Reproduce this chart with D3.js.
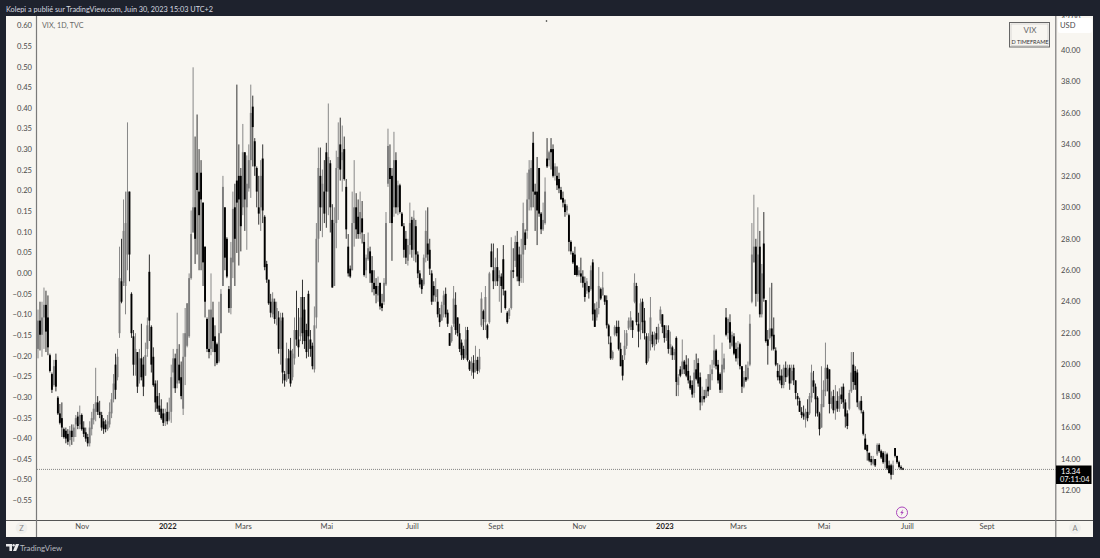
<!DOCTYPE html>
<html><head><meta charset="utf-8">
<script src="https://cdn.jsdelivr.net/npm/d3@7"></script>
<style>html,body{margin:0;padding:0;background:#1e222d;overflow:hidden}svg{display:block}text{font-family:Lato,"Noto Sans",sans-serif}</style>
</head><body><svg id="c" width="1100" height="558"></svg>
<script>
const opens=[
21,22.8,21.9,23,23.8,23,20.6,19.4,18.7,20.3,17.9,16.9,16.6,15.9,15.8,15.6,15.2,15.8,15.4,16.2,
16.7,16.2,16.8,16,15.7,15.4,15,15.9,16.5,17,17.6,17,16.8,16.4,16.2,15.9,16.2,16.9,17.8,20,
19.2,22,25.3,25.2,25,27,31,24.5,21.8,20,20.8,19,20.4,20,19.3,21,25.9,22.4,20.5,18.8,
18,17.4,17.2,16.9,16.4,17,16.5,17,19.5,20.4,18.8,20,19.2,17.2,20.5,21.2,21.8,25.5,28.4,30,
32.2,31,32.2,30.3,27.5,22.9,21,21,23,21.8,21.3,20.2,22,25,30,28,24.8,23.6,26.5,30,
31.7,32,32,30,33.5,30,31.2,33,36.4,34.2,32.5,30,30,33.1,29.4,26.4,25.4,24,23.2,24,
23,23,21,23,19.4,19,20.4,20.9,19.2,20.4,22.2,21.6,21.8,24.3,23.5,22.2,24.5,21.6,21.2,19.7,
23,28,32,30,31,33.5,31,32.8,29.2,25,29,32.5,34,33,33.7,31.3,27.5,26.1,26,29,
30,29.4,28.3,29.3,27.8,26,26.7,27.2,26,25.2,25,24.4,25.2,23.9,24,25.1,31.5,32.5,32,30,
33,30,31.4,29.6,28.8,28,26.6,27.6,29.2,27.3,28.8,27,25.8,25.4,25.1,26.8,27.7,27.3,25.8,25,
24.3,24,23.2,22.8,23.8,24.5,23.3,22,21.5,22.6,23.8,23,22,21.4,21,20.6,22.2,20.2,19.6,20.1,
19.7,20.3,19.7,22.5,23.4,22.7,22.5,22.7,27.2,26,25.3,26.2,25.5,25.6,26.7,24.7,23.3,23.1,23.6,26,
26.6,27.8,27,25.5,27,28.4,28.5,30.5,30,34.1,31,31,32.5,29.6,28.6,29,33.1,33,33.7,33.7,
32,32,31.8,31.1,30.6,30.2,29.8,29.5,27.8,27.1,27,26.3,25.7,25.8,25.6,25.2,24.7,25,24.8,26.5,
23.5,23,23.6,24.8,24.4,24.4,24.1,22.5,21.4,20.4,21.9,22.4,22.4,21,20.3,20.6,21.2,22.3,22.4,22.8,
24,25,22.6,22.2,24,22.8,21.8,20.4,21.5,21.9,21.2,22,21.6,22.8,23.2,22.5,21.7,22.2,21,21.1,
20.6,21.7,18.7,19.7,19.4,20.2,20,19.6,19,18.7,18.2,19.7,20.1,19.2,17.6,18,17.9,18.6,18.4,19.4,
20,20.9,20,19.4,18.4,19.7,23,22,22.7,21.2,21.8,21,20.4,21.3,19.9,18.6,19.2,19.1,20,24,
26.5,27.5,24.5,27.5,23.2,27.7,24.1,21.6,21.7,22.3,21.9,20.9,19.6,19.3,19.3,18.7,19.8,19.3,19.8,19,
19.8,19,18,17.7,17,16.9,16.5,17,16.9,17.9,19,18.6,17.9,16.9,16,17.3,18.3,19.8,19.7,17.5,
18,17.1,17.7,17.2,18.1,18.6,17.6,16.9,17.2,18.3,20,19.6,19.5,17.2,17.7,17,15.3,14.9,14.4,14,
13.7,14,14.3,14.9,14.5,14.4,13.8,14.3,13.6,13.6,13,14.7,14.2,13.8,13.5,13.4];
const highs=[
23.5,24,24,24.9,24.7,24.4,20.7,19.5,20.3,20.7,18,17.5,17.6,16,16,15.9,16.1,16.2,16.2,16.8,
17,17.4,16.9,16.4,16,15.6,16.4,17,17.5,19.8,18,17.7,17,16.6,16.5,16.8,17.6,18.2,19.4,20.7,
21,27.5,28,30.5,31,35.4,30.5,24.6,22.2,22,20.8,21,22.6,20.5,21.4,23,27,22.5,21.1,19,
19,18.2,17.8,17.2,17.2,17.6,17.9,20,21,20.7,23.3,21.3,20.2,22,23.6,23.9,25.8,29.8,38.9,34.5,
35.9,33.7,33,30.3,27.5,23,23.5,25.8,24,22.5,21.4,24,24.8,32,30,28.1,25,27.8,31,31.5,
37.8,34,32.5,35.3,33.5,33.3,34,37.8,37.1,34.4,32.6,32,33,34,29.5,26.6,25.4,24.5,24.6,24.2,
24,23.4,23.3,23.3,19.6,21.4,21,21.7,21,23,24.7,23.6,24.3,25.4,24.3,22.6,24.7,22.2,21.4,23.7,
29,33.8,33.8,32.4,33,34.1,36.6,33,30.2,30,33.6,35.4,35.7,35.2,34.5,31.8,28.3,26.3,31,33,
30.9,30.5,31,30.4,28.3,27,28.4,27.5,26.9,26,25.5,25.6,25.2,24.5,25.5,29.7,35,34,32.5,34.8,
33.5,31.7,31.5,29.7,29,28.5,28,30.3,29.4,29.8,29.2,27.2,26,25.5,27,29.8,30,28,26,25.3,
25.5,24.8,23.6,24,24.7,24.9,23.5,22,22.5,25,24.6,23,22.6,21.6,21.2,22.4,22.4,20.3,20.5,20.6,
21.2,20.5,21,24.6,23.5,25,22.6,25.9,27.7,27.7,26.8,27.4,26,25.8,27.6,24.7,23.4,23.6,28.1,27.4,
28.2,28.5,27.5,28,30.3,28.6,32.2,33,33,34.8,31.5,33.2,32.5,29.7,30.3,31.9,34.4,33.6,34.4,34,
32.8,32.6,32.2,31.3,31,30.5,30.2,29.6,27.9,27.2,27.5,26.3,26.2,26.8,26,25.6,25.5,25,26.3,26.7,
23.9,24,26.2,24.9,25.9,24.4,24.4,22.6,21.8,20.9,22.5,22.8,22.8,21.4,20.6,22.2,22.2,23,23.4,22.8,
25.8,25.2,23.3,24.2,24.2,23.6,22,22,24.3,22.1,22.1,22.4,22.6,23.7,23.2,22.5,22.5,22.5,22.1,21.2,
21,21.8,19.4,19.9,21.6,20.3,20.6,20.4,19.3,19,20.3,20.7,20.4,19.5,18.6,18.4,19.1,19.4,20,20.3,
21.9,21,20.3,19.5,21.4,20.7,23.6,23,23.2,22.1,22,21.4,21.5,21.4,19.9,19.6,20,20.2,23.2,29,
30.8,28,30,28.5,26.4,29.7,24.1,22.2,24.9,25.2,23,21.1,20.1,20,19.7,20,20.2,20,20,20,
20,19,18.2,17.9,17.3,17.4,17.2,17.8,18.2,20,19.6,18.8,18,17,19.9,19,21.4,20,19.7,18.3,
18.4,18.7,18.3,18.5,18.6,18.8,17.8,17.1,18.4,20.8,20.8,19.9,19.7,17.7,18,17.1,15.6,14.9,14.4,14.2,
14.2,14,15,15,14.6,14.5,14.5,14.4,13.9,13.7,13.9,14.7,14.2,13.9,13.6,13.45];
const lows=[
20.4,20.9,20.5,21,20.8,20.6,19.5,18.2,18.6,18.3,16.8,16.2,15.4,15.3,15,14.9,14.8,14.9,15.1,15.4,
15.9,15.9,15.8,15.4,15.1,14.8,14.8,15.5,16.2,16.4,16.8,16.6,15.8,15.6,15.7,15.8,16,16.6,17.6,17.8,
19,21.7,23.9,25,23.2,26,25.3,21.7,19.3,19.3,18.2,18.8,19,18,19.3,20.5,21.5,19.5,18.6,17,
17,16.8,16.5,16.1,16.1,16.2,16.4,16.3,18.5,18.2,18.5,18.8,17.8,16.8,18.7,21.1,21.7,25.4,28.4,26.4,
27,26,26,25,23,20.8,20.4,20.6,20.8,19.9,20,20.1,22,25,26,25.5,23.3,23.2,25.5,25,
27.1,26.3,27.2,29.5,28.5,27.3,31,30.6,32.6,32,30,28.9,28.5,29,26,25.2,23.8,23,23,22.6,
22.5,20.7,20,18.8,18.6,18.9,19.1,18.6,19,20,21.2,20.5,21.5,21.3,21,20.4,20.5,20.5,19.7,19.5,
22.3,26.5,28.5,28.1,29,28.7,29.5,28.4,24.9,25,27.4,29.2,31.7,31,31.7,28,25.6,25.5,26,27.5,
28,28,28,27.7,25.6,25.5,26.6,25.2,24.6,24.4,23.9,24,23.5,23.4,23.8,25,31.3,29,26.6,29.4,
29.6,29.5,29.6,28.8,26.8,26.4,26.3,27,26.8,26.6,26.5,25.5,24.9,24.5,25,26.5,26.6,25.7,23.8,24,
24,23,22.4,22.8,23,23,22.4,21.2,21.4,22.4,21.9,21.8,20.8,20.3,20.3,20.4,20.2,19.6,19.3,19.1,
19.5,19.4,19.5,22.4,22.2,22.2,21.6,22.6,26.2,24.8,25,25,24,23.3,24.4,23.5,22.6,22.9,23.5,25.5,
26.2,25.3,25,25.2,25.2,27.3,28,29.8,29.8,30,28.5,27.6,29.4,28.3,28.5,28.9,32.5,32.6,32.4,31.9,
31.7,31.1,30.9,30.5,30,29.4,29.5,27.2,27,26.4,25.7,25.6,25.6,25.2,24.9,24,24.5,24.2,24.7,22.8,
22.4,22.8,23.2,24.1,24.4,23.8,22.3,21.3,20.3,20.3,21.8,21.8,20.9,19.9,19,20.3,21,22.2,22.2,21.7,
23.9,22.5,21.1,21.6,22,21.6,20,20.2,20.9,21.1,20.9,21.3,21.4,22.6,22,21.4,21.5,20.7,20.6,20.3,
20.3,18,18,19.2,19.4,19.4,19.2,18.8,18.4,17.9,17.9,19,18.6,17.1,17.4,17.6,17.9,18,18.4,19,
19.8,19.7,18.8,18.2,18.2,19.5,21.8,21.6,21,21.1,20.6,20.2,20,19.7,18.2,18.5,18.9,19,19.9,23.9,
26.5,23.7,24,23,23,24,21.4,20,21.6,20.9,20.9,19.9,19,18.8,18.5,18.5,18.9,19.2,18.4,18.8,
18.7,17.8,17.4,17,16.6,16.5,16,16.4,16.8,17.6,18.2,16.7,16.7,15.5,16,17.3,18,18.3,16.9,17.2,
16.9,16.5,17,17,17.5,17.2,16,15.9,17.1,18.2,18.4,18.4,17.3,17.1,16.9,15.5,14.6,13.9,13.8,13.6,
13.6,13.5,14.2,14.4,14,13.7,13.4,13.3,13.1,12.7,13,14.1,13.7,13.4,13.3,13.3];
const closes=[
22.8,21.9,23,23.8,22.1,21.1,19.6,18.4,19.9,18.6,16.9,16.3,16,15.4,15.3,15.1,15.8,15.4,16,16.6,
16.1,16.8,15.9,15.6,15.3,15,16,16.6,17.2,17.6,17,16.8,16,15.9,15.9,16.4,17,17.8,18.8,18.4,
20.5,25.5,24,28.5,29,31,27,22,20,21,18.6,20.4,19.2,18.6,20.6,22.5,22.8,20,18.7,17.6,
17.2,17,16.6,16.3,16.9,16.4,17,19.2,20.4,18.5,21,19,18,20.5,22,23.9,25.5,28.3,30,28,
31.1,29.5,30.5,26.5,24,21,20.8,23.5,21.5,20.8,20.1,22,24.5,31.3,26.8,25.6,23.6,26.8,29.9,28,
30.3,30.5,28.8,33.5,30.5,31.5,33,36,35.1,32.6,31,29.6,32,29.8,26.2,25.4,23.9,23.3,24.2,22.9,
23.6,21,22.8,19.5,19,20.4,19.4,18.8,20.7,22.2,21.6,21.1,23,22,21.5,20.8,21.8,21,19.9,22.5,
28,32.5,30,31.5,29.6,31,33.2,30,24.9,29,32.5,33.2,32.4,33.5,31.8,28.6,25.8,25.6,29,30,
28.6,28.3,29.7,28.4,25.7,26.8,27.4,25.8,25.2,24.8,24.5,25,23.7,23.6,25.2,29,33.9,31.8,29,33,
30,31.4,29.7,28.8,27.3,26.8,27.6,29,27.3,29.3,27,25.8,25.1,24.8,26.8,28.5,27,26.1,24,24.4,
24.8,23.2,22.7,23.8,24.4,23.2,22.6,21.2,22.4,24.2,22.2,22,21,20.6,20.4,21.6,20.3,19.7,20.2,19.5,
20.3,19.6,20.5,24.2,22.9,24.3,21.7,25.8,26.2,25.3,26.2,25.3,25.7,25,24.8,23.6,22.7,23.5,26,25.9,
27.8,25.6,25.3,27,29,27.6,30.5,32.4,32.5,31,30.8,29.8,29.6,28.6,29.2,31,32.6,33.5,33.5,32,
32.6,31.4,31.2,30.5,30.3,29.7,30.1,27.8,27.2,26.5,25.7,25.7,26,25.6,25.2,24.3,25.3,24.6,26,23.2,
22.4,23.6,25,24.2,24.9,24,22.5,21.8,20.4,20.8,22.4,22,21,19.9,19.3,21.2,22,22.8,23,22.2,
25.2,22.7,22.1,23.9,22.7,22,20.1,21.8,23,21.3,21.9,21.6,22.4,23.5,22.4,21.7,22,21,21.3,20.6,
20.8,18.9,19.2,19.3,20.2,19.7,19.3,19,18.5,18.1,19.5,19.1,18.8,17.6,18,17.8,18.4,18.3,19.4,19.7,
20.9,19.9,19,18.4,20,20.4,21.9,22.9,21.4,21.9,20.7,20.4,21.1,19.9,18.6,19.2,19,19.8,22.6,27,
27.5,24.5,27,23.2,25.8,24.2,21.5,21.2,22.3,21.8,21,20,19.2,19,18.7,19.8,19.2,19.7,18.8,19.6,
19,18.2,17.8,17,16.8,16.7,17,16.6,18,19.5,18.6,17.8,16.9,15.9,17.5,18.4,19.8,19.1,17.5,17.9,
17.1,17.7,17.2,18,17.8,17.6,16.7,16.1,18.2,19.5,18.9,18.7,17.6,17.6,17.1,15.6,14.6,14.5,13.9,13.8,
14,13.6,14.9,14.5,14.1,13.8,14.3,13.4,13.1,13,13.6,14.2,13.8,13.5,13.4,13.34];
const lastPrice=13.34;
const timeBars=[22,65,103,145,188,230,272,315,352,395,437,477];
const timeLabels=["Nov","2022","Mars","Mai","Juill","Sept","Nov","2023","Mars","Mai","Juill","Sept"];
const priceTicks=[12,14,16,18,20,22,24,26,28,30,32,34,36,38,40,42];
const corrTicks=[0.60,0.55,0.50,0.45,0.40,0.35,0.30,0.25,0.20,0.15,0.10,0.05,0,-0.05,-0.10,-0.15,-0.20,-0.25,-0.30,-0.35,-0.40,-0.45,-0.50,-0.55];

const FONT='Lato,"Noto Sans",sans-serif';
const BG="#f8f6f1",DARK="#1e222d",TXT="#4a4a4a",AX="#7a7a7a";
const svg=d3.select("#c");
svg.append("rect").attr("width",1100).attr("height",558).attr("fill",DARK);
svg.append("rect").attr("x",6).attr("y",16).attr("width",1087).attr("height",521).attr("fill",BG);
const defs=svg.append("defs");
defs.append("clipPath").attr("id","panel").append("rect").attr("x",6).attr("y",16).attr("width",1087).attr("height",521);

const x=d3.scaleLinear().domain([0,435]).range([38,903]);
const y=d3.scaleLinear().domain([12,40]).range([490.5,50]);
const yL=d3.scaleLinear().domain([-0.55,0.60]).range([500.4,25.5]);

// last price line
svg.append("line").attr("x1",37).attr("x2",1056).attr("y1",y(lastPrice)).attr("y2",y(lastPrice))
  .attr("stroke","#6a6a6a").attr("stroke-width",.8).attr("stroke-dasharray","1 1");

// candles
const idx=d3.range(closes.length);
const col=i=>closes[i]>=opens[i]?"#7d7d7d":"#000";
const g=svg.append("g");
g.selectAll("rect.w").data(idx).join("rect").attr("class","w")
  .attr("x",i=>x(i)-.5).attr("width",1)
  .attr("y",i=>y(Math.max(highs[i],opens[i],closes[i])))
  .attr("height",i=>y(Math.min(lows[i],opens[i],closes[i]))-y(Math.max(highs[i],opens[i],closes[i])))
  .attr("fill",i=>closes[i]>=opens[i]?"#888":"#333");
g.selectAll("rect.b").data(idx).join("rect").attr("class","b")
  .attr("x",i=>x(i)-.95).attr("width",1.9)
  .attr("y",i=>y(Math.max(opens[i],closes[i])))
  .attr("height",i=>Math.max(1,Math.abs(y(opens[i])-y(closes[i]))))
  .attr("fill",col);

// stray dot near the top
svg.append("circle").attr("cx",546.5).attr("cy",21).attr("r",.8).attr("fill","#222");

// axes
const clip=svg.append("g").attr("clip-path","url(#panel)");
const axR=clip.append("g").attr("transform","translate(1056,-.2)")
  .call(d3.axisRight(y).tickValues(priceTicks).tickFormat(d3.format(".2f")).tickSize(0).tickPadding(5));
const axL=svg.append("g").attr("transform","translate(36,-.2)")
  .call(d3.axisLeft(yL).tickValues(corrTicks).tickFormat(d3.format(".2f")).tickSize(0).tickPadding(4));
const axB=svg.append("g").attr("transform","translate(0,520)")
  .call(d3.axisBottom(x).tickValues(timeBars).tickFormat((d,i)=>timeLabels[i]).tickSize(0).tickPadding(4));
[axR,axL,axB].forEach(a=>{a.select(".domain").remove();
  a.selectAll("text").attr("fill",TXT).attr("font-size",7.6).style("font-family",FONT);});
axB.selectAll("text").filter(d=>d===65||d===315).attr("fill","#222").attr("font-weight",700);

// frame lines
svg.append("line").attr("x1",6).attr("x2",1093).attr("y1",520.5).attr("y2",520.5).attr("stroke","#555").attr("stroke-width",1);
svg.append("line").attr("x1",36.5).attr("x2",36.5).attr("y1",16).attr("y2",537).attr("stroke",AX).attr("stroke-width",1.2);
svg.append("line").attr("x1",1055.8).attr("x2",1055.8).attr("y1",16).attr("y2",537).attr("stroke",AX).attr("stroke-width",1.2);

// USD box
svg.append("rect").attr("x",1058).attr("y",18).attr("width",34).attr("height",15).attr("rx",2).attr("fill","#fff");
svg.append("text").attr("x",1060).attr("y",28).attr("font-size",7.6).attr("fill",TXT).text("USD");

// title strip and legend
svg.append("text").attr("x",6).attr("y",11.5).attr("font-size",7.3).attr("fill","#d8dae0").text("Kolepi a publié sur TradingView.com, Juin 30, 2023 15:03 UTC+2");
svg.append("text").attr("x",42).attr("y",27.5).attr("font-size",7.2).attr("fill","#666").text("VIX, 1D, TVC");

// VIX box
svg.append("rect").attr("x",1009.5).attr("y",22.5).attr("width",40).attr("height",24.5).attr("fill","none").attr("stroke","#666").attr("stroke-width",1);
svg.append("rect").attr("x",1011).attr("y",24).attr("width",37).attr("height",21.5).attr("fill","none").attr("stroke","#bbb").attr("stroke-width",.5);
svg.append("text").attr("x",1030).attr("y",32.5).attr("text-anchor","middle").attr("font-size",8).attr("fill","#666").text("VIX");
svg.append("text").attr("x",1030).attr("y",44).attr("text-anchor","middle").attr("font-size",5.5).attr("fill","#333").text("D TIMEFRAME");

// last price badge
svg.append("rect").attr("x",1056).attr("y",465.5).attr("width",35.5).attr("height",18.5).attr("fill","#000");
svg.append("text").attr("x",1061).attr("y",473.5).attr("font-size",7.6).attr("fill","#fff").text(lastPrice.toFixed(2));
svg.append("text").attr("x",1060).attr("y",482.2).attr("font-size",7.4).attr("fill","#eee").text("07:11:04");

// axis corner buttons
[[21.5,528,"Z"],[1075,528,"A"]].forEach(([cx,cy,t])=>{
  svg.append("circle").attr("cx",cx).attr("cy",cy).attr("r",6).attr("fill","#efefec");
  svg.append("text").attr("x",cx).attr("y",cy+3).attr("text-anchor","middle").attr("font-size",7.5).attr("fill","#888").text(t);
});

// lightning marker
const mk=svg.append("g").attr("transform",`translate(902,512.5)`);
mk.append("circle").attr("r",5.5).attr("fill","none").attr("stroke","#ab47bc").attr("stroke-width",1);
mk.append("path").attr("d","M1.2,-3.2 L-1.8,0.6 L-0.2,0.6 L-1.2,3.2 L1.8,-0.6 L0.2,-0.6 Z").attr("fill","#ab47bc");

// TradingView mark
const lg=svg.append("g").attr("transform","translate(6,544)").attr("fill","#e8e8ea");
lg.append("path").attr("d","M0,0 H6 V7 H3.4 V2.6 H0 Z");
lg.append("circle").attr("cx",7.6).attr("cy",1.2).attr("r",1.2);
lg.append("path").attr("d","M9.8,0 H13.2 L10.2,7 H7 Z");
svg.append("text").attr("x",20).attr("y",551).attr("font-size",7.8).attr("fill","#b8bac0").text("TradingView");
</script></body></html>
